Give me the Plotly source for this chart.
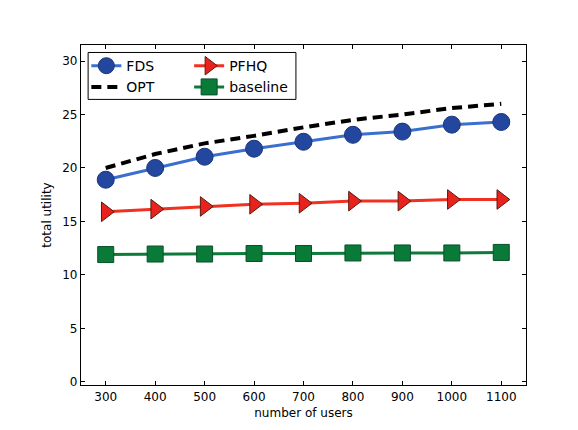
import plotly.graph_objects as go

users = [300, 400, 500, 600, 700, 800, 900, 1000, 1100]
fds = [18.9, 20.0, 21.05, 21.8, 22.45, 23.1, 23.4, 24.05, 24.3]
opt = [20.0, 21.3, 22.3, 23.0, 23.8, 24.5, 25.0, 25.6, 26.0]
pfhq = [15.9, 16.15, 16.4, 16.6, 16.7, 16.9, 16.9, 17.05, 17.05]
baseline = [11.9, 11.95, 11.95, 12.0, 12.0, 12.05, 12.05, 12.05, 12.1]

x_ticks = [300, 400, 500, 600, 700, 800, 900, 1000, 1100]
y_ticks = [0, 5, 10, 15, 20, 25, 30]

font = "DejaVu Sans, Arial, sans-serif"

fig = go.Figure()
fig.add_trace(go.Scatter(
    x=users, y=fds, name="FDS", mode="lines+markers",
    line=dict(color="#3a6fd0", width=3),
    marker=dict(symbol="circle", size=17, color="#23479e",
                line=dict(color="#1a3578", width=1)),
    legend="legend"))
fig.add_trace(go.Scatter(
    x=users, y=opt, name="OPT", mode="lines",
    line=dict(color="black", width=4, dash="10px,6px"),
    legend="legend"))
fig.add_trace(go.Scatter(
    x=users, y=pfhq, name="PFHQ", mode="lines+markers",
    line=dict(color="#f03020", width=3),
    marker=dict(symbol="triangle-right", size=17, color="#e8231e",
                line=dict(color="#5a1a10", width=1)),
    legend="legend2"))
fig.add_trace(go.Scatter(
    x=users, y=baseline, name="baseline", mode="lines+markers",
    line=dict(color="#0e7a3a", width=3),
    marker=dict(symbol="square", size=16, color="#0a7a38",
                line=dict(color="#07502a", width=1)),
    legend="legend2"))

axis_common = dict(
    showline=True, linecolor="black", linewidth=1.2, mirror="ticks",
    ticks="inside", ticklen=4, tickcolor="black", tickwidth=1,
    showgrid=False, zeroline=False,
    tickfont=dict(family=font, size=12, color="black"),
)

fig.update_layout(
    width=578, height=430,
    margin=dict(l=81, r=52, t=45, b=43),
    paper_bgcolor="white", plot_bgcolor="white",
    font=dict(family=font, size=12, color="black"),
    xaxis=dict(range=[250, 1150], tickvals=x_ticks,
               title=dict(text="number of users", font=dict(family=font, size=12), standoff=6),
               **axis_common),
    yaxis=dict(range=[-0.3, 31.5], tickvals=y_ticks,
               title=dict(text="total utility", font=dict(family=font, size=12), standoff=8),
               **axis_common),
    legend=dict(x=0.012, y=0.985, xanchor="left", yanchor="top",
                bgcolor="rgba(0,0,0,0)", borderwidth=0,
                font=dict(family=font, size=14), itemwidth=30,
                tracegroupgap=0),
    legend2=dict(x=0.243, y=0.985, xanchor="left", yanchor="top",
                 bgcolor="rgba(0,0,0,0)", borderwidth=0,
                 font=dict(family=font, size=14), itemwidth=30,
                 tracegroupgap=0),
    shapes=[dict(type="rect", xref="paper", yref="paper",
                 x0=0.016, x1=0.483, y0=0.84, y1=0.978,
                 line=dict(color="black", width=1), fillcolor="rgba(0,0,0,0)")],
)

fig.write_html("out.html")
